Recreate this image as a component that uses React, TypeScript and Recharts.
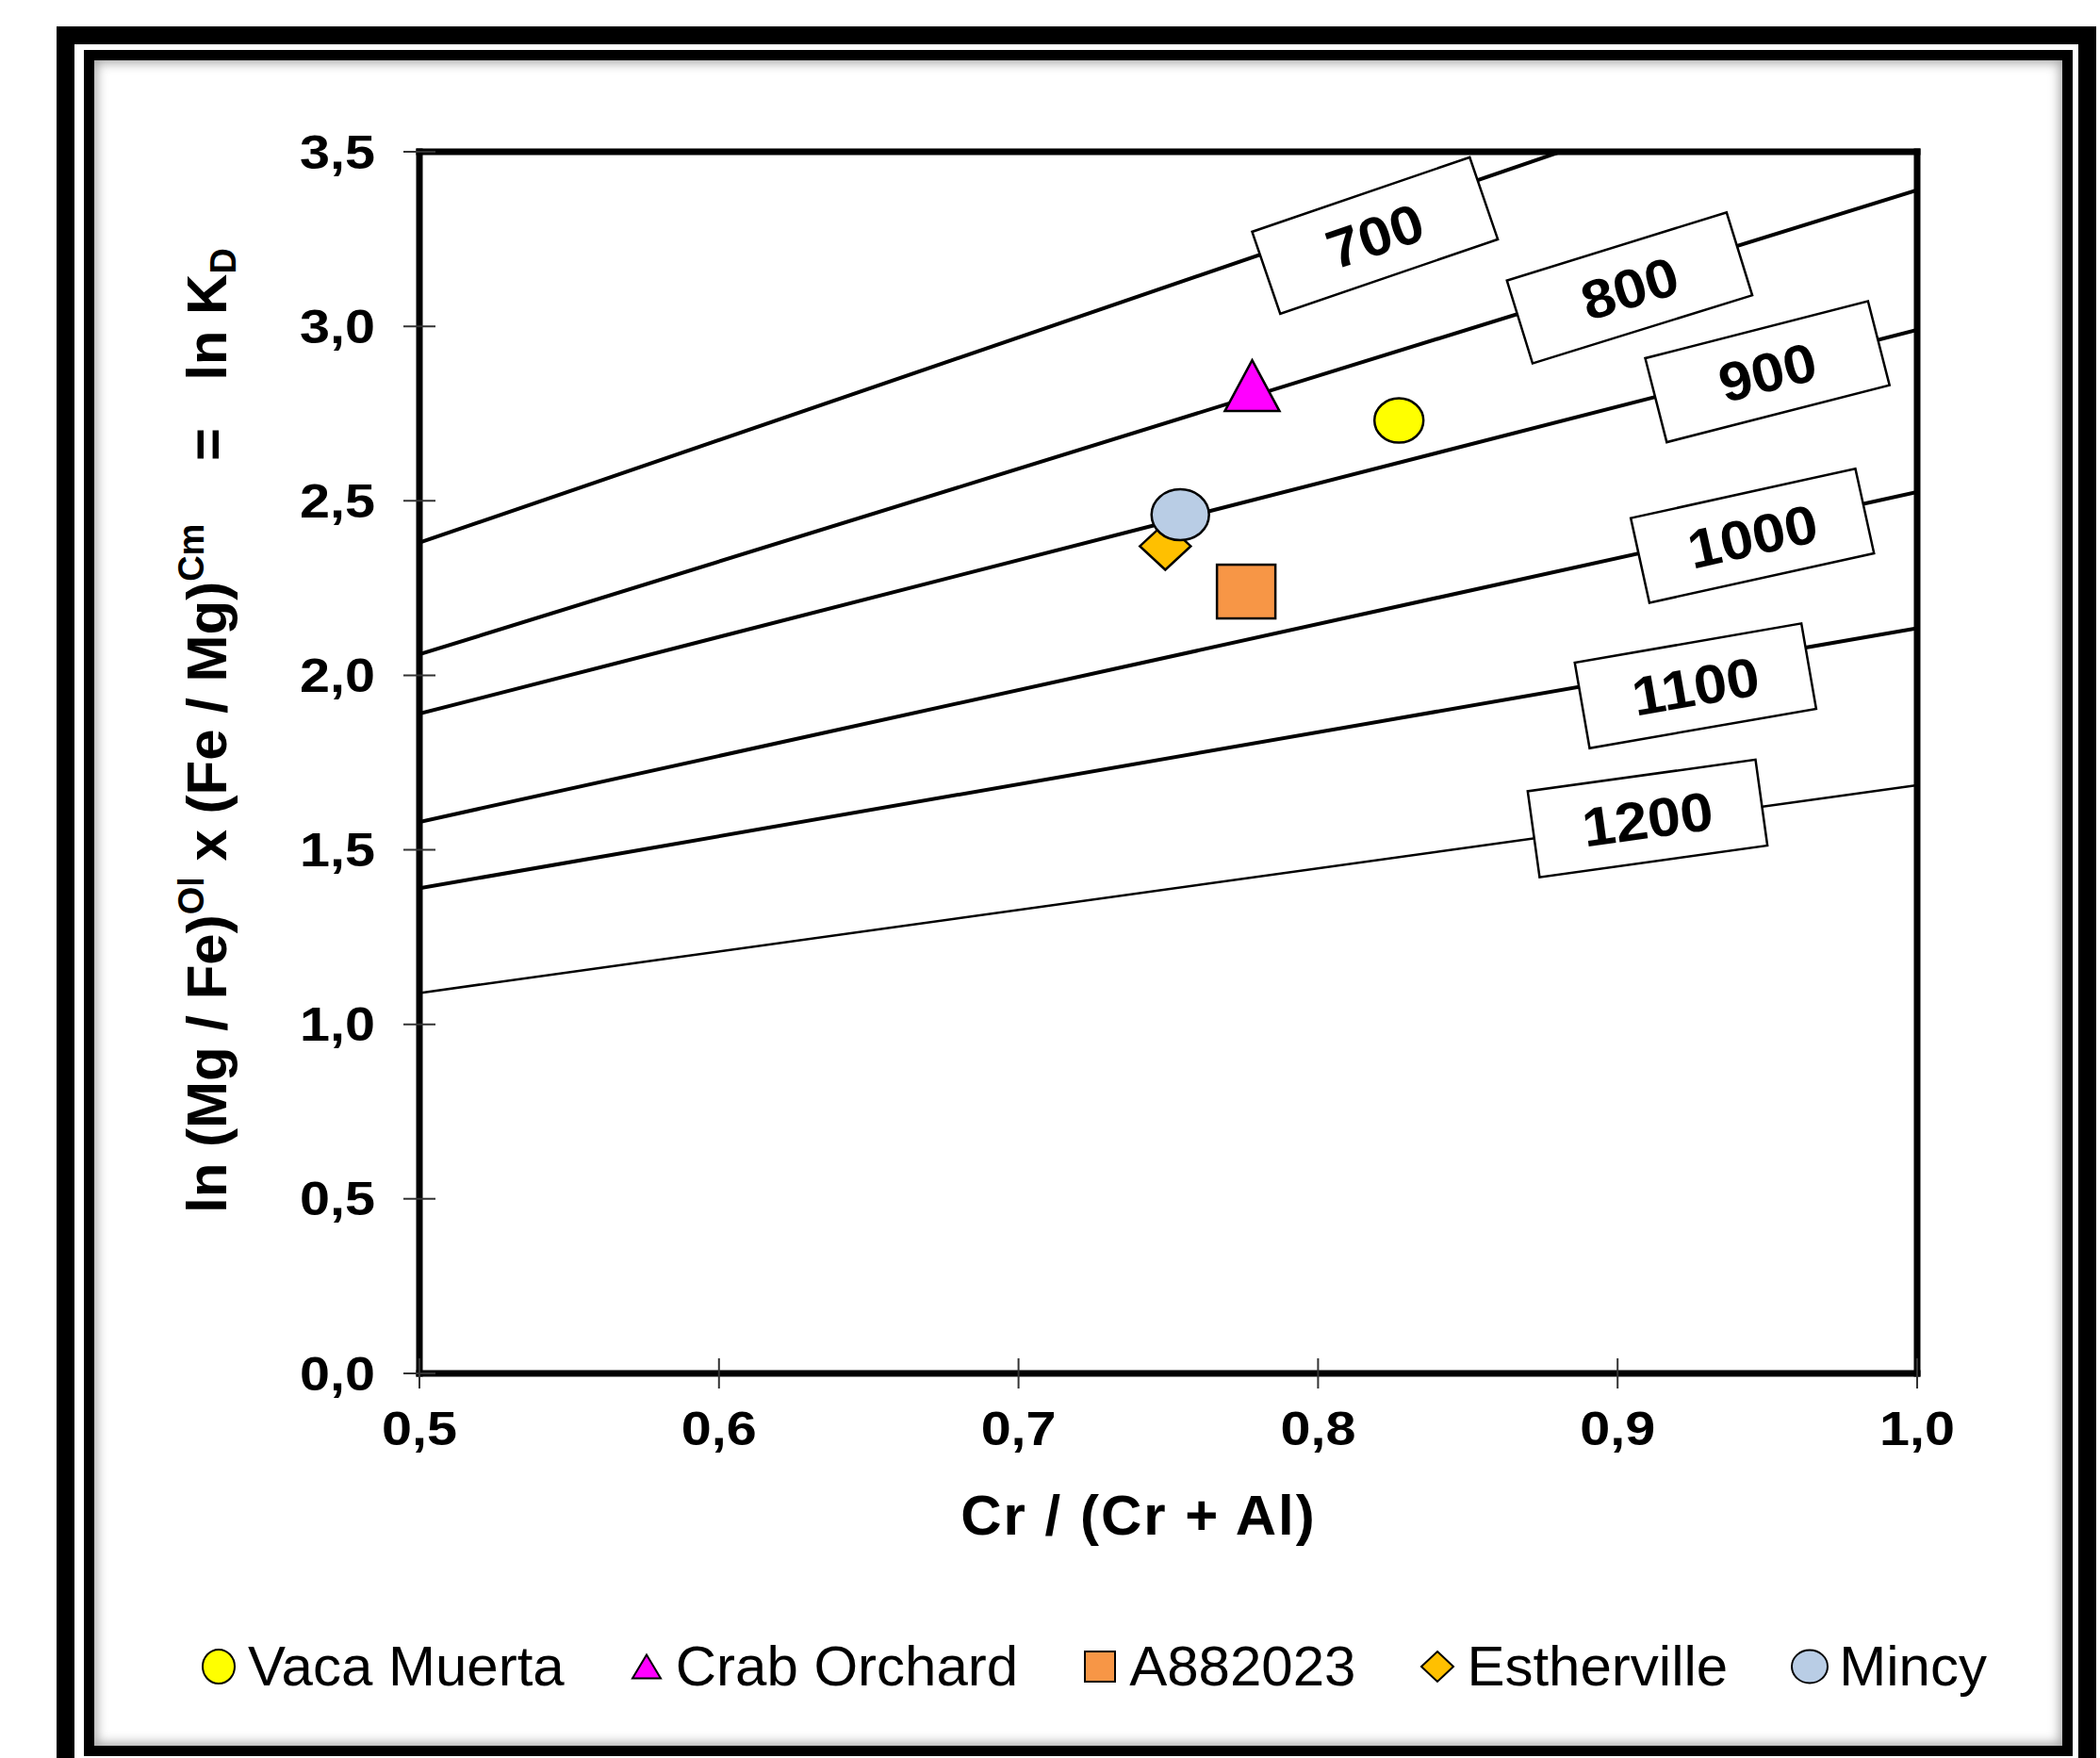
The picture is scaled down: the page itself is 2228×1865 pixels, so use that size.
import { ComposedChart, Line, Scatter, XAxis, YAxis, ReferenceDot, Legend } from 'recharts';

const X_TICKS = [0.5, 0.6, 0.7, 0.8, 0.9, 1.0];
const Y_TICKS = [0, 0.5, 1, 1.5, 2, 2.5, 3, 3.5];

// isotherms (°C): ln KD at Cr/(Cr+Al) = 0.5 and 1.0
const ISOTHERM_NAMES = ['700', '800', '900', '1000', '1100', '1200'];
const ISOTHERM_AT_05 = [2.38, 2.06, 1.89, 1.58, 1.39, 1.09];
const ISOTHERM_AT_10 = [3.85, 3.39, 2.99, 2.525, 2.135, 1.685];
const LABEL_X = [0.819, 0.904, 0.95, 0.945, 0.926, 0.91];
const LABEL_Y = [3.26, 3.11, 2.87, 2.4, 1.97, 1.59];

const SAMPLE_NAMES = ['Vaca Muerta', 'Crab Orchard', 'A882023', 'Estherville', 'Mincy'];
const SAMPLE_X = [0.827, 0.778, 0.776, 0.749, 0.754];
const SAMPLE_Y = [2.73, 2.83, 2.24, 2.37, 2.46];

const FONT = '"Liberation Sans", Arial, sans-serif';
const W = 2228;
const H = 1865;
// axes take 1px each, so the plot area is 445..2034 x 161..1457
const MARGIN = { top: 160, right: 193, bottom: 407, left: 444 };
const PLOT_W = 2034 - 445;
const PLOT_H = 1457 - 161;

const MARKERS = [
  { shape: 'circle', fill: '#FFFF00', w: 52, h: 47, lw: 34, lh: 36 },
  { shape: 'triangle', fill: '#FF00FF', w: 58, h: 54, lw: 30, lh: 25 },
  { shape: 'square', fill: '#F79646', w: 62, h: 57, lw: 32, lh: 32 },
  { shape: 'diamond', fill: '#FFC000', w: 54, h: 50, lw: 34, lh: 32 },
  { shape: 'circle', fill: '#B9CDE5', w: 61, h: 54, lw: 38, lh: 35 },
];

const fmt = (v: number) => v.toFixed(1).replace('.', ',');

function Marker({ kind, cx, cy, legend }: { kind: number; cx: number; cy: number; legend?: boolean }) {
  const m = MARKERS[kind];
  if (!m) return null;
  const w = legend ? m.lw : m.w;
  const h = legend ? m.lh : m.h;
  const common = { fill: m.fill, stroke: '#000', strokeWidth: legend ? 2 : 2.5 };
  if (m.shape === 'circle') return <ellipse cx={cx} cy={cy} rx={w / 2} ry={h / 2} {...common} />;
  if (m.shape === 'square') return <rect x={cx - w / 2} y={cy - h / 2} width={w} height={h} {...common} />;
  if (m.shape === 'triangle')
    return <polygon points={`${cx},${cy - h / 2} ${cx + w / 2},${cy + h / 2} ${cx - w / 2},${cy + h / 2}`} {...common} />;
  return <polygon points={`${cx},${cy - h / 2} ${cx + w / 2},${cy} ${cx},${cy + h / 2} ${cx - w / 2},${cy}`} {...common} />;
}

function IsothermLabel({ cx, cy, text, slope }: { cx: number; cy: number; text: string; slope: number }) {
  const angle = (-Math.atan((slope * PLOT_H) / 3.5 / (PLOT_W / 0.5)) * 180) / Math.PI;
  return (
    <g transform={`translate(${cx},${cy}) rotate(${angle})`}>
      <rect x={-122} y={-46} width={244} height={92} fill="#fff" stroke="#000" strokeWidth={2.5} />
      <text transform="scale(1.08,1)" x={0} y={0} dy="0.36em" textAnchor="middle" fontFamily={FONT} fontWeight="bold" fontSize={58} fill="#000">
        {text}
      </text>
    </g>
  );
}

const XTick = (props: any) => {
  const { x, y, payload } = props;
  return (
    <g>
      <line x1={x} x2={x} y1={y - 16} y2={y + 16} stroke="#333" strokeWidth={2} />
      <text transform={`translate(${x},${y + 76}) scale(1.15,1)`} textAnchor="middle" fontFamily={FONT} fontWeight="bold" fontSize={50} fill="#000">
        {fmt(payload.value)}
      </text>
    </g>
  );
};

const YTick = (props: any) => {
  const { x, y, payload } = props;
  return (
    <g>
      <line x1={x - 17} x2={x + 17} y1={y} y2={y} stroke="#333" strokeWidth={2} />
      <text transform={`translate(${x - 47},${y}) scale(1.15,1)`} dy="0.35em" textAnchor="end" fontFamily={FONT} fontWeight="bold" fontSize={50} fill="#000">
        {fmt(payload.value)}
      </text>
    </g>
  );
};

const XTitle = () => (
  <text x={1208} y={1628} textAnchor="middle" fontFamily={FONT} fontWeight="bold" fontSize={60} letterSpacing={2} fill="#000">
    Cr / (Cr + Al)
  </text>
);

const YTitle = () => (
  <text
    transform="translate(240,775) rotate(-90)"
    textAnchor="middle"
    fontFamily={FONT}
    fontWeight="bold"
    fontSize={60}
    fill="#000"
    style={{ whiteSpace: 'pre' }}
  >
    <tspan>ln (Mg / Fe)</tspan>
    <tspan fontSize={38} dy={-24}>Ol</tspan>
    <tspan dy={24}> x (Fe / Mg)</tspan>
    <tspan fontSize={38} dy={-24}>Cm</tspan>
    <tspan dy={24}>{'    =   ln K'}</tspan>
    <tspan fontSize={38} dy={10}>D</tspan>
  </text>
);

const LegendContent = (props: any) => {
  const payload = (props.payload || [])
    .filter((e: any) => SAMPLE_NAMES.includes(e.value))
    .sort((a: any, b: any) => SAMPLE_NAMES.indexOf(a.value) - SAMPLE_NAMES.indexOf(b.value));
  return (
    <div style={{ display: 'flex', gap: 65, fontFamily: FONT, fontSize: 60, lineHeight: '69px', color: '#000', whiteSpace: 'nowrap' }}>
      {payload.map((entry: any) => {
        const i = SAMPLE_NAMES.indexOf(entry.value);
        return (
          <div key={entry.value} style={{ display: 'flex', alignItems: 'center' }}>
            <svg width={44} height={44} style={{ overflow: 'visible' }}>
              <Marker kind={i} cx={22} cy={22} legend />
            </svg>
            <span style={{ marginLeft: 9 }}>{entry.value}</span>
          </div>
        );
      })}
    </div>
  );
};

const axisLine = { stroke: '#000', strokeWidth: 7, strokeLinecap: 'square' as const };

export default function App() {
  return (
    <div style={{ position: 'absolute', left: 0, top: 0, width: W, height: H, overflow: 'hidden', background: '#fff' }}>
      <div
        style={{
          position: 'absolute',
          left: 60,
          top: 28,
          width: 2164,
          height: 1860,
          border: '19px solid #000',
          boxSizing: 'border-box',
        }}
      />
      <div
        style={{
          position: 'absolute',
          left: 89,
          top: 53,
          width: 2110,
          height: 1810,
          border: '11px solid #000',
          boxSizing: 'border-box',
          background: '#fff',
          boxShadow: 'inset 0 0 12px 3px rgba(0,0,0,0.35)',
        }}
      />
      <div style={{ position: 'absolute', left: 0, top: 0 }}>
        <ComposedChart width={W} height={H} margin={MARGIN}>
          <XAxis
            type="number"
            dataKey="x"
            domain={[0.5, 1]}
            ticks={X_TICKS}
            allowDataOverflow
            height={1}
            tickSize={0}
            tickMargin={0}
            tickLine={false}
            axisLine={axisLine}
            tick={<XTick />}
            interval={0}
            label={<XTitle />}
          />
          <XAxis xAxisId="top" orientation="top" type="number" dataKey="x" domain={[0.5, 1]} height={1} tick={false} tickLine={false} axisLine={axisLine} />
          <YAxis
            type="number"
            dataKey="y"
            domain={[0, 3.5]}
            ticks={Y_TICKS}
            allowDataOverflow
            width={1}
            tickSize={0}
            tickMargin={0}
            tickLine={false}
            axisLine={axisLine}
            tick={<YTick />}
            interval={0}
            label={<YTitle />}
          />
          <YAxis yAxisId="right" orientation="right" type="number" domain={[0, 3.5]} width={1} tick={false} tickLine={false} axisLine={axisLine} />
          {ISOTHERM_NAMES.map((name, i) => (
            <Line
              key={name}
              name={`iso-${name}`}
              data={[
                { x: 0.5, y: ISOTHERM_AT_05[i] },
                { x: 1.0, y: ISOTHERM_AT_10[i] },
              ]}
              dataKey="y"
              stroke="#000"
              strokeWidth={name === '1200' ? 2.5 : 4}
              dot={false}
              activeDot={false}
              legendType="none"
              isAnimationActive={false}
            />
          ))}
          {ISOTHERM_NAMES.map((name, i) => (
            <ReferenceDot
              key={`lbl-${name}`}
              x={LABEL_X[i]}
              y={LABEL_Y[i]}
              shape={(p: any) => (
                <IsothermLabel cx={p.cx} cy={p.cy} text={name} slope={(ISOTHERM_AT_10[i] - ISOTHERM_AT_05[i]) / 0.5} />
              )}
            />
          ))}
          {SAMPLE_NAMES.map((name, i) => (
            <Scatter
              key={name}
              name={name}
              data={[{ x: SAMPLE_X[i], y: SAMPLE_Y[i] }]}
              fill={MARKERS[i].fill}
              shape={(p: any) => <Marker kind={i} cx={p.cx} cy={p.cy} />}
              isAnimationActive={false}
            />
          ))}
          <Legend
            layout="horizontal"
            verticalAlign="middle"
            content={<LegendContent />}
            wrapperStyle={{ left: 210, top: 1733, width: 'auto' }}
          />
        </ComposedChart>
      </div>
    </div>
  );
}
